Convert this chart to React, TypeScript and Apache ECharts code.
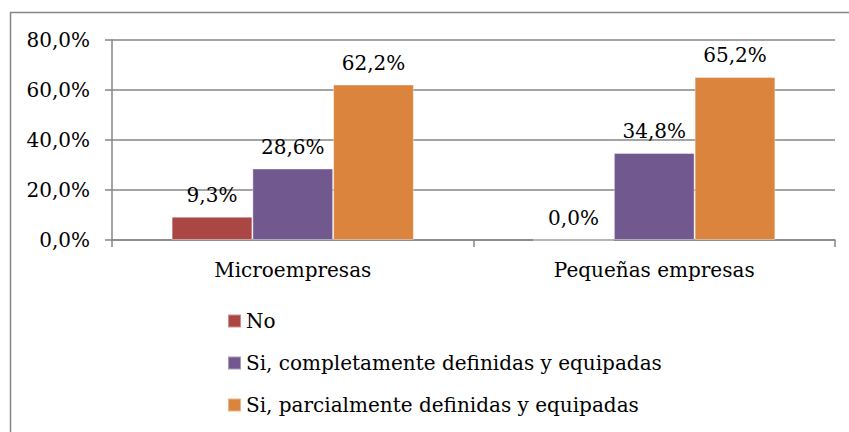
import React, { useEffect, useRef } from "react";
import * as echarts from "echarts";

const categories = ["Microempresas", "Pequeñas empresas"];
const seriesNames = [
  "No",
  "Si, completamente definidas y equipadas",
  "Si, parcialmente definidas y equipadas",
];
const noValues = [9.3, 0.0];
const completeValues = [28.6, 34.8];
const partialValues = [62.2, 65.2];
const colors = ["#AA4643", "#71588F", "#DB843D"];

const FONT = "DejaVu Serif";
const FS = 20;
const fmt = (v: number) => v.toFixed(1).replace(".", ",") + "%";

export default function App() {
  const ref = useRef<HTMLDivElement>(null);
  useEffect(() => {
    if (!ref.current) return;
    const chart = echarts.init(ref.current, undefined, { renderer: "svg" });
    const label = {
      show: true,
      position: "top",
      distance: 12,
      color: "#000",
      fontFamily: FONT,
      fontSize: FS,
      formatter: (p: any) => fmt(p.value),
    };
    const data = [noValues, completeValues, partialValues];
    chart.setOption({
      animation: false,
      backgroundColor: "#fff",
      textStyle: { fontFamily: FONT },
      graphic: [
        {
          type: "rect",
          shape: { x: 10.5, y: 12.5, width: 860, height: 460 },
          style: { fill: "none", stroke: "#868686", lineWidth: 1.5 },
          silent: true,
        },
      ],
      grid: { left: 112, right: 14, top: 40, bottom: 192, containLabel: false },
      legend: {
        orient: "vertical",
        left: 222,
        top: 306,
        icon: "rect",
        itemWidth: 13,
        itemHeight: 13,
        itemGap: 22,
        textStyle: { fontFamily: FONT, fontSize: FS, color: "#000" },
        data: seriesNames,
      },
      xAxis: {
        type: "category",
        data: categories,
        axisLine: { lineStyle: { color: "#868686", width: 1.5 } },
        axisTick: { show: true, length: 7, alignWithLabel: false, lineStyle: { color: "#868686", width: 1.5 } },
        axisLabel: { color: "#000", fontFamily: FONT, fontSize: FS, margin: 20 },
      },
      yAxis: {
        type: "value",
        min: 0,
        max: 80,
        interval: 20,
        axisLine: { show: true, lineStyle: { color: "#868686", width: 1.5 } },
        axisTick: { show: true, length: 7, lineStyle: { color: "#868686", width: 1.5 } },
        splitLine: { show: true, lineStyle: { color: "#868686", width: 1.5 } },
        axisLabel: { color: "#000", fontFamily: FONT, fontSize: FS, margin: 22, formatter: (v: number) => fmt(v) },
      },
      series: seriesNames.map((name, i) => ({
        name,
        type: "bar",
        data: data[i],
        barGap: "0%",
        barCategoryGap: "33%",
        itemStyle: { color: colors[i], borderColor: "rgba(255,255,255,0.4)", borderWidth: 1 },
        label,
      })),
    });
    return () => chart.dispose();
  }, []);
  return (
    <div
      ref={ref}
      style={{ position: "fixed", left: 0, top: 0, width: 849, height: 432 }}
    />
  );
}
